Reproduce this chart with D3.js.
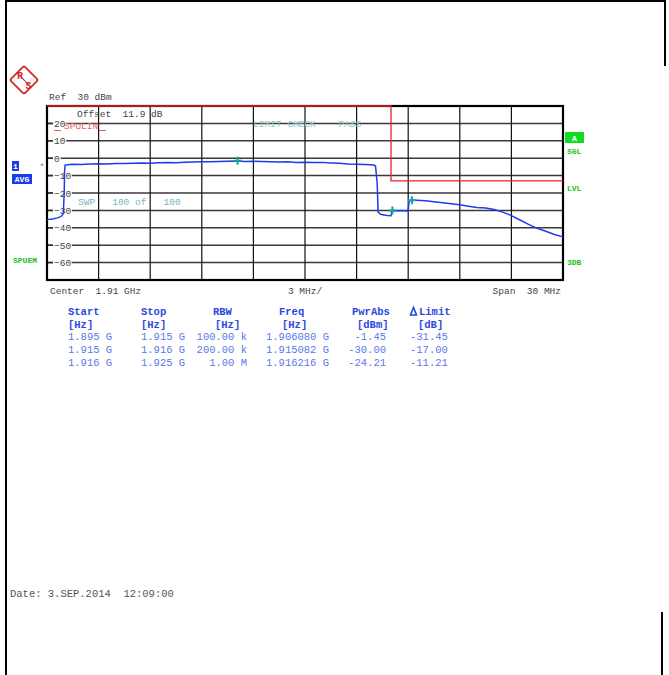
<!DOCTYPE html>
<html>
  <head>
    <script src="https://d3js.org/d3.v7.min.js"></script>
    <style>
      body { margin: 0; background: #fff; }
      text { font-family: "Liberation Mono", "DejaVu Sans Mono", monospace; }
    </style>
  </head>
  <body>
    <svg id="plot" width="669" height="675"></svg>
    <script>
      // trace (MHz, dBm)
      const traceFreq = [1895.0, 1895.2, 1895.4, 1895.6, 1895.8, 1895.9, 1895.95, 1896.0, 1896.02, 1896.05,
        1896.2, 1896.5, 1897, 1897.5, 1898, 1898.5, 1899, 1899.5, 1900, 1900.5, 1901, 1901.5, 1902, 1902.5,
        1903, 1903.5, 1904, 1904.5, 1905, 1905.5, 1906.08, 1906.5, 1907, 1907.5, 1908, 1908.5, 1909, 1909.5,
        1910, 1910.5, 1911, 1911.5, 1912, 1912.5, 1913, 1913.5, 1914, 1914.1, 1914.2, 1914.25, 1914.4, 1914.6,
        1914.8, 1915.0, 1915.05, 1915.082, 1915.3, 1915.6, 1915.9, 1916.0, 1916.05, 1916.216, 1916.5, 1917,
        1917.5, 1918, 1918.5, 1919, 1919.5, 1920, 1920.5, 1921, 1921.5, 1922, 1922.5, 1923, 1923.5, 1924,
        1924.5, 1925];
      const traceLevel = [-35.3, -35.1, -34.8, -34.3, -33.6, -32.6, -31.5, -20, -8, -4.0,
        -3.7, -3.5, -3.6, -3.4, -3.2, -3.3, -3.0, -3.1, -2.9, -2.8, -2.9, -2.6, -2.5, -2.6,
        -2.3, -2.2, -2.0, -2.1, -1.9, -1.8, -1.6, -1.9, -1.8, -1.9, -2.0, -2.2, -2.1, -2.4,
        -2.3, -2.5, -2.4, -2.7, -2.9, -3.3, -3.5, -3.6, -3.9, -4.5, -15, -31.0, -32.2, -32.6,
        -32.9, -33.1, -30.2, -30.0, -30.2, -30.1, -30.3, -30.4, -24.5, -24.2, -24.1, -24.5,
        -25.0, -25.6, -26.2, -26.8, -27.6, -28.3, -28.6, -29.5, -31.0, -33.0, -35.5, -38.0, -40.3, -42.0,
        -43.8, -45.2];

      const limitFreq = [1895, 1915, 1915, 1925];
      const limitLevel = [30, 30, -13, -13];

      const markerFreq = [1906.080, 1915.082, 1916.216];
      const markerLevel = [-1.45, -30.00, -24.21];

      const yTicks = [20, 10, 0, -10, -20, -30, -40, -50, -60];
      const xGrid = d3.range(1895, 1925.01, 3);
      const yGrid = d3.range(-70, 30.01, 10);

      const tableHead = ["Start", "Stop", "RBW", "Freq", "PwrAbs", "Limit"];
      const tableUnit = ["[Hz]", "[Hz]", "[Hz]", "[Hz]", "[dBm]", "[dB]"];
      const tableRows = [
        ["1.895 G", "1.915 G", "100.00 k", "1.906080 G", "-1.45", "-31.45"],
        ["1.915 G", "1.916 G", "200.00 k", "1.915082 G", "-30.00", "-17.00"],
        ["1.916 G", "1.925 G", "1.00 M", "1.916216 G", "-24.21", "-11.21"]
      ];

      const svg = d3.select("#plot");
      const pLeft = 47, pRight = 563, pTop = 106, pBottom = 280;

      const x = d3.scaleLinear().domain([1895, 1925]).range([pLeft, pRight]);
      const y = d3.scaleLinear().domain([-70, 30]).range([pBottom, pTop]);

      // page frame
      svg.append("line").attr("x1", 5).attr("x2", 666).attr("y1", 1).attr("y2", 1).attr("stroke", "#000").attr("stroke-width", 2);
      svg.append("line").attr("x1", 6).attr("x2", 6).attr("y1", 0).attr("y2", 675).attr("stroke", "#000").attr("stroke-width", 2);
      svg.append("line").attr("x1", 665).attr("x2", 665).attr("y1", 0).attr("y2", 66).attr("stroke", "#000").attr("stroke-width", 2);
      svg.append("line").attr("x1", 662).attr("x2", 662).attr("y1", 612).attr("y2", 675).attr("stroke", "#000").attr("stroke-width", 2);

      // R&S logo
      const logo = svg.append("g").attr("transform", "translate(24,80) rotate(45)");
      logo.append("rect").attr("x", -10).attr("y", -10).attr("width", 20).attr("height", 20)
        .attr("rx", 2).attr("fill", "#fff").attr("stroke", "#d42a2a").attr("stroke-width", 1.8);
      logo.append("line").attr("x1", -10).attr("x2", 10).attr("y1", 0).attr("y2", 0)
        .attr("stroke", "#d42a2a").attr("stroke-width", 1);
      svg.append("text").attr("x", 20).attr("y", 79).attr("text-anchor", "middle")
        .attr("font-size", 10).attr("font-weight", "bold").attr("fill", "#d42a2a").text("R");
      svg.append("text").attr("x", 28.5).attr("y", 89).attr("text-anchor", "middle")
        .attr("font-size", 10).attr("font-weight", "bold").attr("fill", "#d42a2a").text("S");

      const small = 9.5;
      svg.append("text").attr("x", 49).attr("y", 100).attr("font-size", small).attr("fill", "#444")
        .attr("xml:space", "preserve").text("Ref  30 dBm");

      // grid
      svg.selectAll(".hg").data(yGrid).enter().append("line")
        .attr("x1", pLeft).attr("x2", pRight)
        .attr("y1", d => y(d)).attr("y2", d => y(d))
        .attr("stroke", "#3a3a3a").attr("stroke-width", 1.5);
      svg.selectAll(".vg").data(xGrid).enter().append("line")
        .attr("y1", pTop).attr("y2", pBottom)
        .attr("x1", d => x(d)).attr("x2", d => x(d))
        .attr("stroke", "#111").attr("stroke-width", 1.2);

      // y tick labels with white backing
      const tick = svg.selectAll(".yt").data(yTicks).enter().append("g");
      tick.append("rect").attr("x", 53).attr("y", d => y(d) - 5)
        .attr("width", d => String(d).length * 5.6 + 2).attr("height", 10).attr("fill", "#fff");
      tick.append("line").attr("x1", pLeft).attr("x2", 53)
        .attr("y1", d => y(d)).attr("y2", d => y(d)).attr("stroke", "#333").attr("stroke-width", 1.5);
      tick.append("text").attr("x", 54).attr("y", d => y(d) + 3.5)
        .attr("font-size", small).attr("fill", "#444")
        .text(d => d < 0 ? "\u2212" + Math.abs(d) : d);

      // plot border
      svg.append("rect").attr("x", pLeft).attr("y", pTop).attr("width", pRight - pLeft).attr("height", pBottom - pTop)
        .attr("fill", "none").attr("stroke", "#000").attr("stroke-width", 2.2);

      // limit line
      svg.append("path")
        .datum(d3.range(limitFreq.length))
        .attr("fill", "none").attr("stroke", "#f02020").attr("stroke-width", 1.3)
        .attr("d", d3.line().x(i => x(limitFreq[i])).y(i => y(limitLevel[i])));

      // in-plot texts
      svg.append("text").attr("x", 77).attr("y", 117).attr("font-size", small).attr("fill", "#444")
        .attr("xml:space", "preserve").text("Offset  11.9 dB");
      svg.append("text").attr("x", 64).attr("y", 129).attr("font-size", small).attr("fill", "#e86060")
        .text("SPULIN");
      svg.append("line").attr("x1", 54).attr("x2", 61).attr("y1", 130.5).attr("y2", 130.5)
        .attr("stroke", "#e86060").attr("stroke-width", 1);
      svg.append("line").attr("x1", 99).attr("x2", 106).attr("y1", 130.5).attr("y2", 130.5)
        .attr("stroke", "#e86060").attr("stroke-width", 1);
      svg.append("text").attr("x", 253).attr("y", 127).attr("font-size", small).attr("fill", "#8cc8c8")
        .attr("xml:space", "preserve").text("LIMIT CHECK    PASS");
      svg.append("text").attr("x", 78).attr("y", 205).attr("font-size", small).attr("fill", "#70b8c0")
        .attr("xml:space", "preserve").text("SWP   100 of   100");

      // trace
      svg.append("path")
        .datum(d3.range(traceFreq.length))
        .attr("fill", "none").attr("stroke", "#1c3cf0").attr("stroke-width", 1.5)
        .attr("d", d3.line().x(i => x(traceFreq[i])).y(i => y(traceLevel[i])));

      // markers
      const mk = svg.selectAll(".mk").data(d3.range(markerFreq.length)).enter().append("g")
        .attr("transform", i => "translate(" + x(markerFreq[i]) + "," + y(markerLevel[i]) + ")");
      mk.append("path").attr("d", "M-4,0H4M0,-4V4").attr("stroke", "#1aa0a0").attr("stroke-width", 2);

      // left side labels
      svg.append("rect").attr("x", 12).attr("y", 161).attr("width", 7).attr("height", 10).attr("fill", "#1a3ce8");
      svg.append("text").attr("x", 15.5).attr("y", 169).attr("text-anchor", "middle").attr("font-size", 8)
        .attr("font-weight", "bold").attr("fill", "#fff").text("1");
      svg.append("rect").attr("x", 12).attr("y", 174).attr("width", 20).attr("height", 10).attr("fill", "#1a3ce8");
      svg.append("text").attr("x", 22).attr("y", 182).attr("text-anchor", "middle").attr("font-size", 8)
        .attr("font-weight", "bold").attr("fill", "#fff").text("AVG");
      svg.append("text").attr("x", 42).attr("y", 170).attr("text-anchor", "middle").attr("font-size", 9)
        .attr("fill", "#20c020").text("*");
      svg.append("text").attr("x", 13).attr("y", 263).attr("font-size", 8).attr("font-weight", "bold")
        .attr("fill", "#20c020").text("SPUEM");

      // right side labels
      svg.append("rect").attr("x", 565).attr("y", 132).attr("width", 19).attr("height", 11).attr("fill", "#10dd20");
      svg.append("text").attr("x", 574.5).attr("y", 141).attr("text-anchor", "middle").attr("font-size", 8)
        .attr("font-weight", "bold").attr("fill", "#fff").text("A");
      [["SGL", 154], ["LVL", 191], ["3DB", 265]].forEach(function(d) {
        svg.append("text").attr("x", 567).attr("y", d[1]).attr("font-size", 8).attr("font-weight", "bold")
          .attr("fill", "#20c020").text(d[0]);
      });

      // caption under the plot
      svg.append("text").attr("x", 50).attr("y", 294).attr("font-size", small).attr("fill", "#444")
        .attr("xml:space", "preserve").text("Center  1.91 GHz");
      svg.append("text").attr("x", x(1910)).attr("y", 294).attr("text-anchor", "middle").attr("font-size", small)
        .attr("fill", "#444").text("3 MHz/");
      svg.append("text").attr("x", 561).attr("y", 294).attr("text-anchor", "end").attr("font-size", small)
        .attr("fill", "#444").attr("xml:space", "preserve").text("Span  30 MHz");

      // marker table
      const headX = [68, 141, 213, 279, 352, 419];
      const unitX = [68, 141, 215, 282, 357, 418];
      const tf = 10.5;
      tableHead.forEach(function(h, i) {
        svg.append("text").attr("x", headX[i]).attr("y", 315).attr("font-size", tf).attr("font-weight", "bold")
          .attr("fill", "#2a48e0").text(h);
      });
      // delta symbol in front of "Limit"
      svg.append("path").attr("d", "M410.5,315L413.5,307.5L416.5,315Z").attr("fill", "none")
        .attr("stroke", "#2a48e0").attr("stroke-width", 1.6);
      tableUnit.forEach(function(u, i) {
        svg.append("text").attr("x", unitX[i]).attr("y", 328).attr("font-size", tf).attr("font-weight", "bold")
          .attr("fill", "#2a48e0").text(u);
      });
      const rowLeft = [68, 141, 0, 266, 0, 410];
      const rowRight = [114, 187, 247, 333, 386, 450];
      tableRows.forEach(function(r, j) {
        r.forEach(function(c, i) {
          const t = svg.append("text").attr("y", 340 + j * 13).attr("font-size", tf).attr("fill", "#5a78e8").text(c);
          if (rowLeft[i]) t.attr("x", rowLeft[i]);
          else t.attr("x", rowRight[i]).attr("text-anchor", "end");
        });
      });

      svg.append("text").attr("x", 10).attr("y", 597).attr("font-size", 10.5).attr("fill", "#555")
        .attr("xml:space", "preserve").text("Date: 3.SEP.2014  12:09:00");
    </script>
  </body>
</html>
